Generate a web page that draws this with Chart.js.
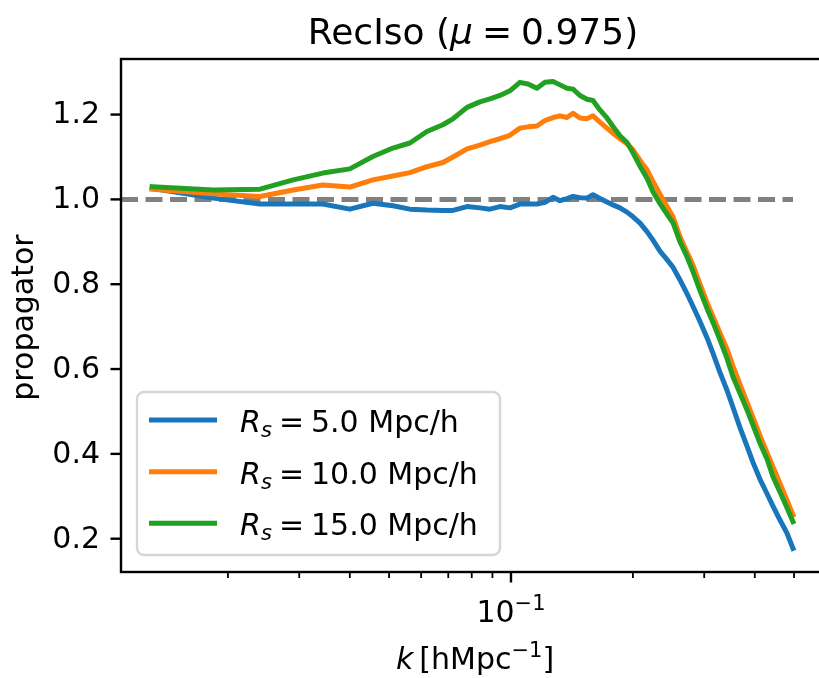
<!DOCTYPE html>
<html>
<head>
<meta charset="utf-8">
<title>RecIso propagator</title>
<script src="https://cdn.jsdelivr.net/npm/chart.js@4.4.1/dist/chart.umd.min.js"></script>
<style>
  html, body { margin: 0; padding: 0; background: #fff; overflow: hidden; }
  #wrap { width: 819px; height: 678px; overflow: hidden; }
</style>
</head>
<body>
<div id="wrap">
  <canvas id="myChart" width="840" height="678"></canvas>
</div>
<script>
// k values [h/Mpc]
const kValues = [0.0130, 0.0184, 0.0240, 0.0290, 0.0343, 0.0400, 0.0456, 0.0511, 0.0563, 0.0620,
  0.0679, 0.0719, 0.0779, 0.0838, 0.0887, 0.0939, 0.0994, 0.1052, 0.1101, 0.1159,
  0.1213, 0.1270, 0.1321, 0.1375, 0.1423, 0.1480, 0.1540, 0.1594, 0.1658, 0.1726,
  0.1786, 0.1858, 0.1934, 0.2001, 0.2083, 0.2167, 0.2242, 0.2333, 0.2428, 0.2512,
  0.2614, 0.2720, 0.2814, 0.2929, 0.3048, 0.3154, 0.3281, 0.3415, 0.3533, 0.3677,
  0.3826, 0.3959, 0.4120, 0.4288, 0.4436, 0.4616, 0.4803, 0.4970];

// propagator, R_s = 5 Mpc/h
const rs5Values = [1.026, 1.003, 0.989, 0.989, 0.989, 0.977, 0.991, 0.985, 0.977, 0.975,
  0.974, 0.974, 0.983, 0.980, 0.977, 0.983, 0.980, 0.989, 0.989, 0.989,
  0.993, 1.005, 0.997, 1.002, 1.007, 1.004, 1.003, 1.011, 1.002, 0.994,
  0.987, 0.980, 0.970, 0.959, 0.944, 0.924, 0.904, 0.878, 0.858, 0.840,
  0.810, 0.778, 0.748, 0.712, 0.674, 0.637, 0.592, 0.550, 0.510, 0.462,
  0.418, 0.380, 0.340, 0.306, 0.277, 0.244, 0.213, 0.177];

// propagator, R_s = 10 Mpc/h
const rs10Values = [1.024, 1.013, 1.007, 1.022, 1.034, 1.029, 1.046, 1.055, 1.063, 1.077,
  1.087, 1.100, 1.119, 1.128, 1.136, 1.143, 1.151, 1.168, 1.171, 1.173,
  1.186, 1.193, 1.197, 1.193, 1.203, 1.192, 1.190, 1.197, 1.182, 1.168,
  1.156, 1.143, 1.131, 1.117, 1.092, 1.070, 1.042, 1.012, 0.983, 0.959,
  0.912, 0.876, 0.845, 0.800, 0.757, 0.724, 0.685, 0.647, 0.607, 0.564,
  0.522, 0.486, 0.443, 0.403, 0.369, 0.330, 0.291, 0.256];

// propagator, R_s = 15 Mpc/h
const rs15Values = [1.030, 1.022, 1.024, 1.046, 1.062, 1.072, 1.101, 1.121, 1.133, 1.160,
  1.176, 1.190, 1.217, 1.230, 1.237, 1.245, 1.256, 1.276, 1.272, 1.262,
  1.276, 1.278, 1.270, 1.262, 1.260, 1.245, 1.236, 1.233, 1.211, 1.192,
  1.172, 1.150, 1.134, 1.110, 1.078, 1.050, 1.018, 0.990, 0.965, 0.945,
  0.900, 0.865, 0.830, 0.785, 0.743, 0.710, 0.669, 0.625, 0.582, 0.543,
  0.504, 0.468, 0.425, 0.388, 0.346, 0.310, 0.273, 0.240];

const seriesLabels = ['5.0', '10.0', '15.0'];
const seriesColors = ['#1976ba', '#ff7d0b', '#22a022'];

const yTicks = [0.2, 0.4, 0.6, 0.8, 1.0, 1.2];
const xMajorTicks = [0.1];
const xMinorTicks = [0.02, 0.03, 0.04, 0.05, 0.06, 0.07, 0.08, 0.09, 0.2, 0.3, 0.4, 0.5];
const refLevel = 1.0;

const X_MIN = 0.01089, X_MAX = 0.5962;
const Y_MIN = 0.1215, Y_MAX = 1.331;

const FONT = '"DejaVu Sans", sans-serif';

const toPoints = (vals) => vals.map((v, i) => ({ x: kValues[i], y: v }));

// draw a run of text pieces [text, font, dy] starting at x
function drawRun(ctx, pieces, x, y) {
  pieces.forEach(p => {
    ctx.font = p[1];
    ctx.fillText(p[0], x, y + (p[2] || 0));
    x += ctx.measureText(p[0]).width;
  });
}
function runWidth(ctx, pieces) {
  let w = 0;
  pieces.forEach(p => { ctx.font = p[1]; w += ctx.measureText(p[0]).width; });
  return w;
}

const decor = {
  id: 'decor',
  afterDraw(chart) {
    const ctx = chart.ctx;
    const a = chart.chartArea;
    const xs = chart.scales.x, ys = chart.scales.y;
    ctx.save();
    ctx.fillStyle = '#000';
    ctx.strokeStyle = '#000';

    // frame
    ctx.lineWidth = 2.4;
    ctx.strokeRect(a.left, a.top, a.right - a.left, a.bottom - a.top);

    // y ticks + labels
    ctx.font = '30px ' + FONT;
    ctx.textAlign = 'right';
    ctx.textBaseline = 'middle';
    yTicks.forEach(t => {
      const py = ys.getPixelForValue(t);
      ctx.beginPath();
      ctx.moveTo(a.left - 10.5, py);
      ctx.lineTo(a.left, py);
      ctx.stroke();
      ctx.fillText(t.toFixed(1), a.left - 21, py + 1);
    });

    // x ticks
    xMajorTicks.forEach(t => {
      const px = xs.getPixelForValue(t);
      ctx.lineWidth = 2.4;
      ctx.beginPath();
      ctx.moveTo(px, a.bottom);
      ctx.lineTo(px, a.bottom + 10.5);
      ctx.stroke();
    });
    xMinorTicks.forEach(t => {
      const px = xs.getPixelForValue(t);
      ctx.lineWidth = 1.8;
      ctx.beginPath();
      ctx.moveTo(px, a.bottom);
      ctx.lineTo(px, a.bottom + 6);
      ctx.stroke();
    });

    ctx.textAlign = 'left';
    ctx.textBaseline = 'alphabetic';

    // x major label 10^-1
    const tickPieces = [['10', '30px ' + FONT, 0], ['\u22121', '21px ' + FONT, -12]];
    const tx = xs.getPixelForValue(0.1);
    drawRun(ctx, tickPieces, tx - runWidth(ctx, tickPieces) / 2, 622);

    // x axis label
    const xl = [['k', 'italic 30px ' + FONT, 0], ['\u2009[hMpc', '30px ' + FONT, 0],
      ['\u22121', '21px ' + FONT, -12], [']', '30px ' + FONT, 0]];
    const cx = (a.left + a.right) / 2;
    drawRun(ctx, xl, cx - runWidth(ctx, xl) / 2 + 2, 669);

    // y axis label
    ctx.save();
    ctx.translate(33, (a.top + a.bottom) / 2 + 2);
    ctx.rotate(-Math.PI / 2);
    ctx.textAlign = 'center';
    ctx.font = '30px ' + FONT;
    ctx.fillText('propagator', 0, 0);
    ctx.restore();

    // title
    const tp = [['RecIso (', '36px ' + FONT, 0], ['\u03bc', 'italic 36px ' + FONT, 0],
      ['\u2005=\u20050.975)', '36px ' + FONT, 0]];
    drawRun(ctx, tp, cx - runWidth(ctx, tp) / 2, 44);

    // legend
    const L = 137, T = 392, R = 500, B = 555, rad = 7;
    ctx.beginPath();
    ctx.moveTo(L + rad, T);
    ctx.arcTo(R, T, R, B, rad);
    ctx.arcTo(R, B, L, B, rad);
    ctx.arcTo(L, B, L, T, rad);
    ctx.arcTo(L, T, R, T, rad);
    ctx.closePath();
    ctx.fillStyle = 'rgba(255,255,255,0.8)';
    ctx.fill();
    ctx.strokeStyle = '#d6d6d6';
    ctx.lineWidth = 2.4;
    ctx.stroke();

    const rowY = [420, 471.7, 523.3];
    seriesLabels.forEach((lab, i) => {
      const y = rowY[i];
      ctx.strokeStyle = seriesColors[i];
      ctx.lineWidth = 5;
      ctx.lineCap = 'butt';
      ctx.beginPath();
      ctx.moveTo(149, y);
      ctx.lineTo(217, y);
      ctx.stroke();
      ctx.fillStyle = '#000';
      const base = y + 12;
      ctx.font = 'italic 30px ' + FONT;
      ctx.fillText('R', 240, base);
      ctx.font = 'italic 21px ' + FONT;
      ctx.fillText('s', 261, base + 5);
      ctx.font = '30px ' + FONT;
      ctx.fillText('=', 279, base);
      ctx.fillText(lab + ' Mpc/h', 311, base);
    });

    ctx.restore();
  }
};

const lineStyle = (color, order) => ({
  borderColor: color,
  borderWidth: 5,
  pointRadius: 0,
  fill: false,
  tension: 0,
  borderJoinStyle: 'round',
  borderCapStyle: 'square',
  order: order
});

const ctx = document.getElementById('myChart').getContext('2d');
new Chart(ctx, {
  type: 'line',
  data: {
    datasets: [
      Object.assign({ label: 'Rs = 5.0 Mpc/h', data: toPoints(rs5Values) }, lineStyle(seriesColors[0], 2)),
      Object.assign({ label: 'Rs = 10.0 Mpc/h', data: toPoints(rs10Values) }, lineStyle(seriesColors[1], 1)),
      Object.assign({ label: 'Rs = 15.0 Mpc/h', data: toPoints(rs15Values) }, lineStyle(seriesColors[2], 0)),
      {
        label: 'ref',
        data: [{ x: X_MIN, y: refLevel }, { x: kValues[kValues.length - 1], y: refLevel }],
        borderColor: '#808080',
        borderWidth: 5,
        borderDash: [17, 7.5],
        pointRadius: 0,
        fill: false,
        order: 3
      }
    ]
  },
  options: {
    responsive: false,
    animation: false,
    layout: { padding: { left: 121, top: 59, right: 15, bottom: 106 } },
    scales: {
      x: { type: 'logarithmic', min: X_MIN, max: X_MAX, display: false },
      y: { type: 'linear', min: Y_MIN, max: Y_MAX, display: false }
    },
    plugins: {
      legend: { display: false },
      tooltip: { enabled: false },
      title: { display: false }
    }
  },
  plugins: [decor]
});
</script>
</body>
</html>
